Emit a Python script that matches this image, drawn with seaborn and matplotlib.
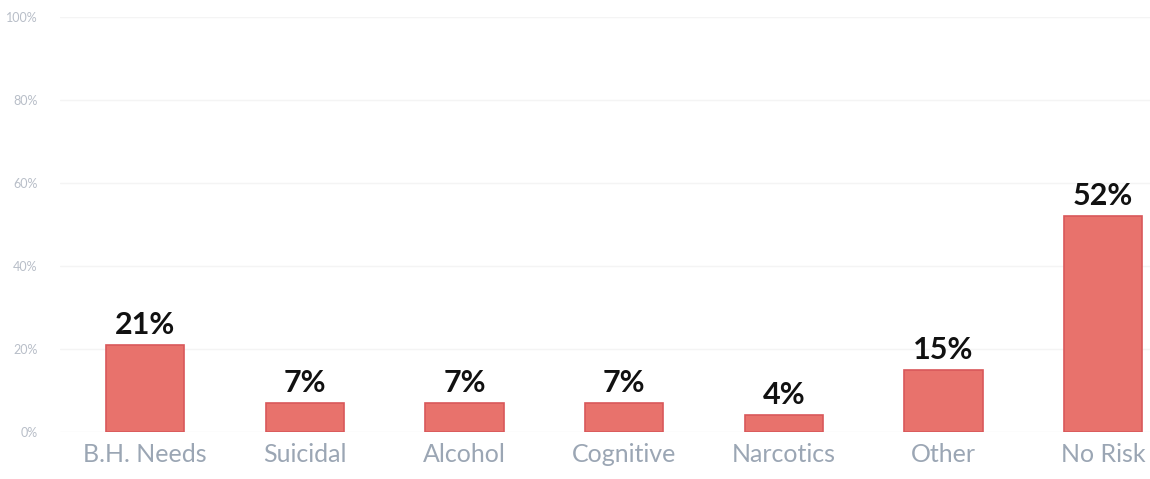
import matplotlib
matplotlib.use("Agg")
import matplotlib.pyplot as plt
import seaborn as sns
import pandas as pd

categories = ["B.H. Needs", "Suicidal", "Alcohol", "Cognitive", "Narcotics", "Other", "No Risk"]
values = [21, 7, 7, 7, 4, 15, 52]
labels = ["21%", "7%", "7%", "7%", "4%", "15%", "52%"]
yticks = [0, 20, 40, 60, 80, 100]
ytick_labels = ["0%", "20%", "40%", "60%", "80%", "100%"]

sns.set_theme(style="white")
plt.rcParams['font.family'] = ['Lato', 'DejaVu Sans']

df = pd.DataFrame({"cat": categories, "val": values})

fig = plt.figure(figsize=(11.5, 4.79), dpi=100)
ax = fig.add_axes([60/1150, 47/479, 1090/1150, 415/479])

sns.barplot(data=df, x="cat", y="val", ax=ax, color="#e8726c", width=0.49,
            edgecolor="#d9585a", linewidth=1.2, saturation=1)

ax.set_xlim(-0.532, 6.293)
ax.set_ylim(0, 100)
ax.set_yticks(yticks)
ax.set_yticklabels(ytick_labels, color="#b8bec8", fontsize=9)
ax.yaxis.grid(True, color="#f4f4f4", linewidth=1)
ax.set_axisbelow(True)
ax.tick_params(axis="y", length=0, pad=16)
ax.tick_params(axis="x", length=0, pad=8)
for t in ax.get_xticklabels():
    t.set_color("#9ba6b4")
    t.set_fontsize(18)
ax.set_xlabel("")
ax.set_ylabel("")
for s in ax.spines.values():
    s.set_visible(False)

for i, (v, lab) in enumerate(zip(values, labels)):
    ax.text(i, v + 1.5, lab, ha="center", va="bottom", fontsize=22,
            fontweight="bold", color="#111111")

fig.savefig("out.png", dpi=100, facecolor="white")
